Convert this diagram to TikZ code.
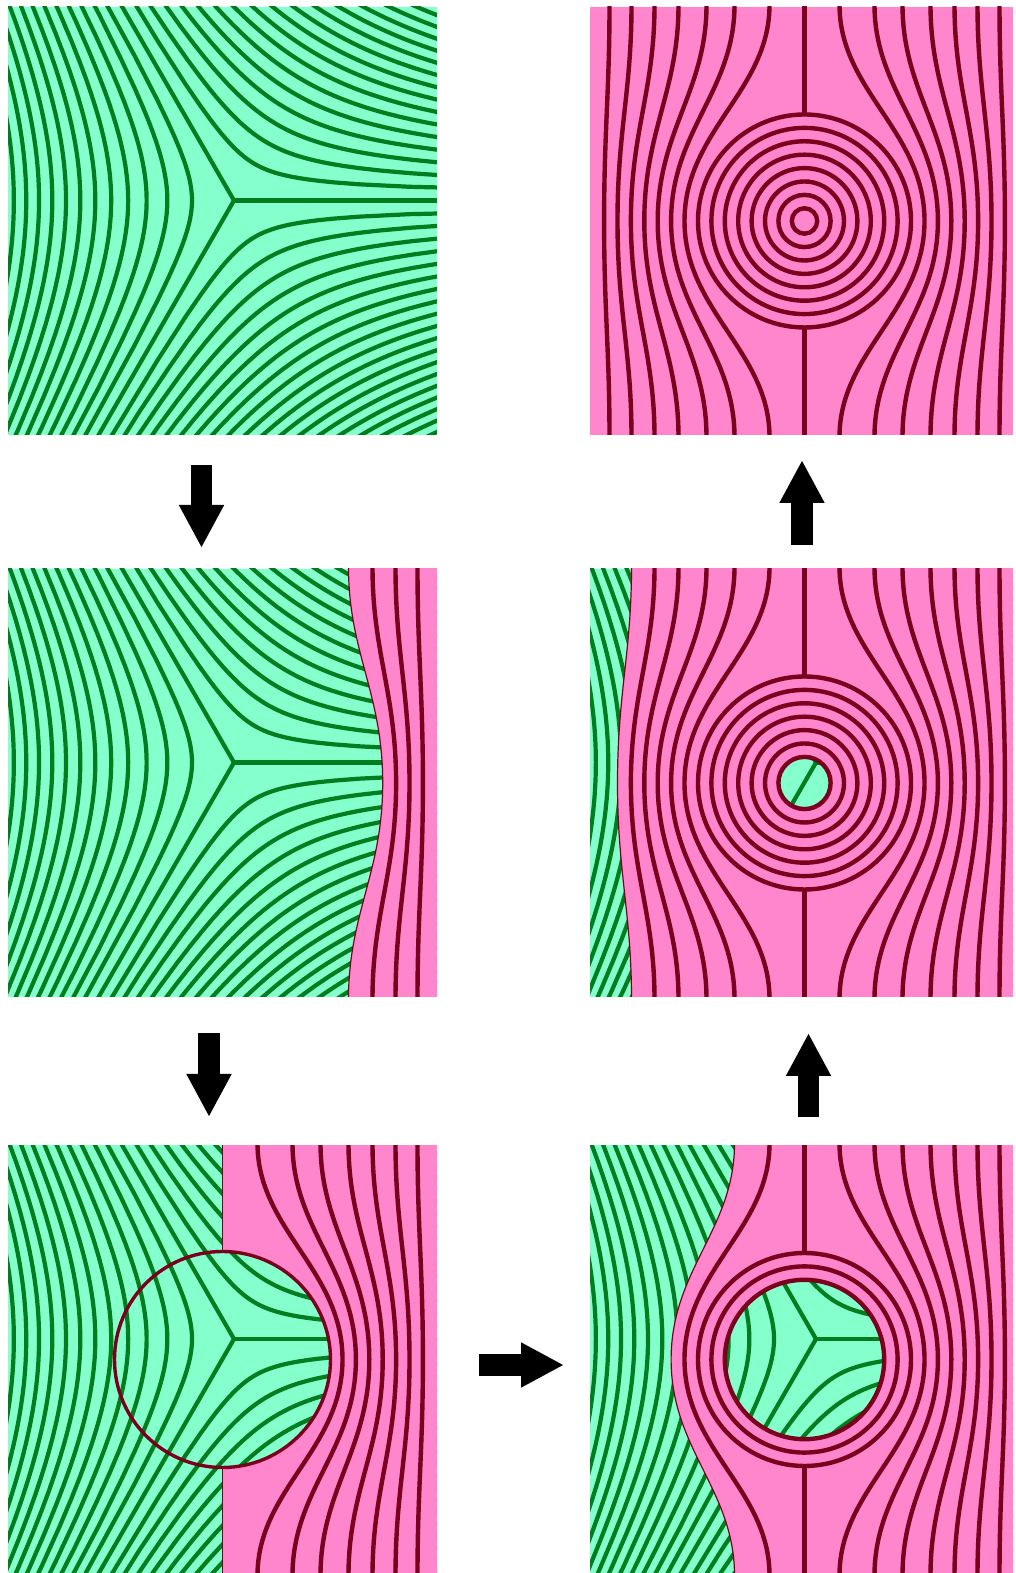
\documentclass[tikz,border=0pt]{standalone}
\usepackage{xcolor}
\usetikzlibrary{arrows.meta}

\definecolor{mint}{RGB}{133,255,204}
\definecolor{leaf}{RGB}{0,125,30}
\definecolor{rose}{RGB}{255,133,204}
\definecolor{wine}{RGB}{122,0,30}

\tikzset{
  greenline/.style={leaf, line width=4.2pt},
  roseline/.style={wine, line width=4.4pt},
  seam/.style={wine, line width=1.2pt},
  blockarrow/.style={black, line width=21.5pt, -{Triangle[length=43pt,width=42pt]}}
}

% layers around the three-fold junction
\newcommand{\greenfield}{%
  \begin{scope}[shift={(11.5,20.5)}]
    \foreach \b in {60,180,300}{
      \foreach \n in {1,...,22}{
        \pgfmathsetmacro{\rn}{42*pow(\n,2/3)}
        \pgfmathsetmacro{\fmax}{2/3*acos(min(1,\n*272.2/6830))}
        \draw[greenline] plot[domain=-\fmax:\fmax,samples=41] ({\b+\x}:{\rn*pow(cos(1.5*\x),-2/3)});
      }
    }
    \foreach \a in {0,120,240} \draw[greenline, line cap=round] (0,0) -- (\a:400);
  \end{scope}}

% one pink layer: offset at the edge #1, offset at mid height #2
\newcommand{\rosepath}[2]{(#1,216) .. controls (#1,130) and (#2,90) .. (#2,0) .. controls (#2,-90) and (#1,-130) .. (#1,-216)}
\newcommand{\roselist}{35/120,70/133.4,98/146.8,126/160.2,150/173.6,173/187,195/200.4}

\begin{document}
\begin{tikzpicture}[x=1pt,y=1pt]
  \fill[white] (0,0) rectangle (1016,1573);
  \useasboundingbox (0,0) rectangle (1016,1573);

  % A: junction only
  \begin{scope}[shift={(222.5,1352)}]
    \clip (-214.5,-214) rectangle (214.5,214);
    \fill[mint] (-214.5,-214) rectangle (214.5,214);
    \greenfield
  \end{scope}

  % B: pink layers come in from the right
  \begin{scope}[shift={(222.5,790)}]
    \clip (-214.5,-214) rectangle (214.5,214);
    \fill[mint] (-214.5,-214) rectangle (214.5,214);
    \greenfield
    \fill[rose] \rosepath{126}{160.2} -- (220,-216) -- (220,216) -- cycle;
    \foreach \t/\m in {150/173.6,173/187,195/200.4} \draw[roseline] \rosepath{\t}{\m};
    \draw[seam] \rosepath{126}{160.2};
  \end{scope}

  % C: half plane and disc
  \begin{scope}[shift={(222.5,213.5)}]
    \clip (-214.5,-214) rectangle (214.5,214);
    \fill[mint] (-214.5,-214) rectangle (214.5,214);
    \greenfield
    \fill[rose] (0,216) -- (0,108) arc[start angle=90,end angle=-90,radius=108]
      -- (0,-216) -- (220,-216) -- (220,216) -- cycle;
    \foreach \t/\m in \roselist \draw[roseline] \rosepath{\t}{\m};
    \draw[seam] (0,216) -- (0,108) (0,-108) -- (0,-216);
    \draw[roseline, line width=3.4pt] (0,0) circle[radius=108];
  \end{scope}

  % D: three rings round the green disc
  \begin{scope}[shift={(804.5,213.5)}]
    \clip (-214.5,-214) rectangle (208.5,214);
    \fill[mint] (-214.5,-214) rectangle (208.5,214);
    \greenfield
    \fill[rose, even odd rule] \rosepath{-70}{-133.4} -- (215,-216) -- (215,216) -- cycle
      (0,0) circle[radius=79.7];
    \draw[roseline] \rosepath{-35}{-120};
    \foreach \t/\m in \roselist \draw[roseline] \rosepath{\t}{\m};
    \draw[roseline] (0,106.5) -- (0,216) (0,-106.5) -- (0,-216);
    \foreach \r in {79.7,93.1,106.5} \draw[roseline] (0,0) circle[radius=\r];
    \draw[seam] \rosepath{-70}{-133.4};
  \end{scope}

  % E: small green core left
  \begin{scope}[shift={(804.5,790)}]
    \clip (-214.5,-214) rectangle (208.5,214);
    \fill[mint] (-214.5,-214) rectangle (208.5,214);
    \greenfield
    \fill[rose, even odd rule] \rosepath{-173}{-187} -- (215,-216) -- (215,216) -- cycle
      (0,0) circle[radius=26.1];
    \foreach \t/\m in {35/120,70/133.4,98/146.8,126/160.2,150/173.6} \draw[roseline] \rosepath{-\t}{-\m};
    \foreach \t/\m in \roselist \draw[roseline] \rosepath{\t}{\m};
    \draw[roseline] (0,106.5) -- (0,216) (0,-106.5) -- (0,-216);
    \foreach \r in {26.1,39.5,52.9,66.3,79.7,93.1,106.5} \draw[roseline] (0,0) circle[radius=\r];
    \draw[seam] \rosepath{-173}{-187};
  \end{scope}

  % F: target pattern only
  \begin{scope}[shift={(804.5,1352)}]
    \clip (-214.5,-214) rectangle (208.5,214);
    \fill[rose] (-214.5,-214) rectangle (208.5,214);
    \foreach \t/\m in \roselist {
      \draw[roseline] \rosepath{-\t}{-\m};
      \draw[roseline] \rosepath{\t}{\m};
    }
    \draw[roseline] (0,106.5) -- (0,216) (0,-106.5) -- (0,-216);
    \foreach \r in {12.7,26.1,39.5,52.9,66.3,79.7,93.1,106.5} \draw[roseline] (0,0) circle[radius=\r];
  \end{scope}

  % arrows between the stages
  \coordinate (A-out) at (201.5,1108);
  \coordinate (B-in) at (201.5,1025);
  \coordinate (B-out) at (209,540);
  \coordinate (C-in) at (209,456);
  \coordinate (C-out) at (479,208);
  \coordinate (D-in) at (564,208);
  \coordinate (D-out) at (808.5,456);
  \coordinate (E-in) at (808.5,540);
  \coordinate (E-out) at (802,1028);
  \coordinate (F-in) at (802,1113);
  \draw[blockarrow] (A-out) -- (B-in);
  \draw[blockarrow] (B-out) -- (C-in);
  \draw[blockarrow] (C-out) -- (D-in);
  \draw[blockarrow] (D-out) -- (E-in);
  \draw[blockarrow] (E-out) -- (F-in);
\end{tikzpicture}
\end{document}
